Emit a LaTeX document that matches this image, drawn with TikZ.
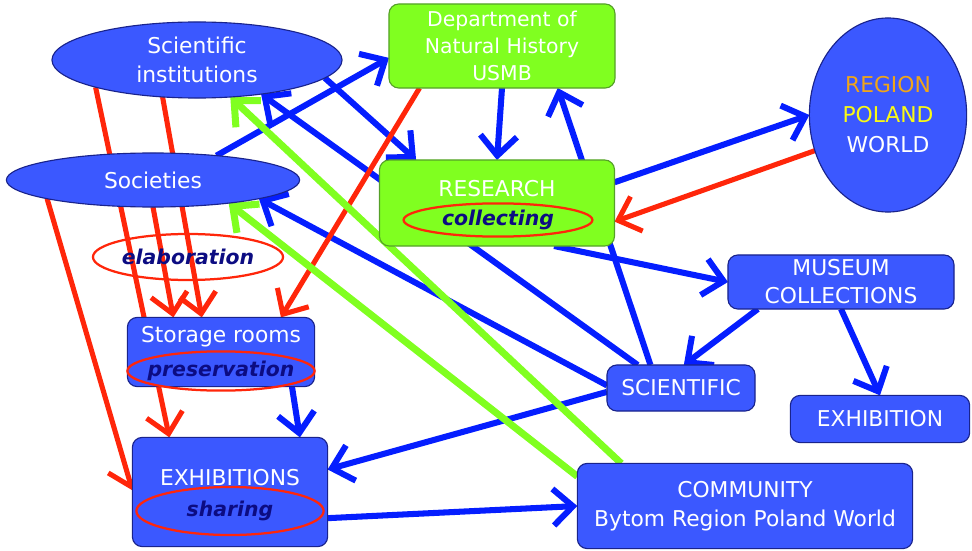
\documentclass[tikz,border=0pt]{standalone}
\usepackage{fontspec}
\setmainfont{DejaVu Sans}
\usetikzlibrary{arrows.meta,shapes.geometric,backgrounds}
\definecolor{boxblue}{RGB}{59,88,255}
\definecolor{boxline}{RGB}{25,35,140}
\definecolor{arrblue}{RGB}{5,30,255}
\definecolor{arrred}{RGB}{255,38,10}
\definecolor{lime}{RGB}{128,255,32}
\definecolor{limeline}{RGB}{85,160,40}
\definecolor{tagnavy}{RGB}{12,12,130}
\definecolor{regorange}{RGB}{240,165,25}
\definecolor{polyellow}{RGB}{250,250,20}

\begin{document}
\begin{tikzpicture}
  [x=0.025cm,y=-0.025cm,
   every node/.style={inner sep=0pt,outer sep=0pt,align=center,text=white,font=\fontsize{15.5}{20.5}\selectfont},
   bluebox/.style={rectangle,rounded corners=7pt,draw=boxline,line width=0.8pt,fill=boxblue},
   limebox/.style={rectangle,rounded corners=7pt,draw=limeline,line width=0.8pt,fill=lime},
   blueoval/.style={ellipse,draw=boxline,line width=0.8pt,fill=boxblue},
   tagoval/.style={ellipse,draw=arrred,line width=1.6pt},
   tagtext/.style={text=tagnavy,font=\fontsize{14.5}{17}\selectfont\bfseries\itshape},
   barbtip/.style={-{Straight Barb[length=14pt,width=26pt]}},
   bluearr/.style={barbtip,draw=arrblue,line width=4.3pt},
   redarr/.style={barbtip,draw=arrred,line width=3.6pt},
   limearr/.style={barbtip,draw=lime,line width=5pt}]
  \useasboundingbox (0,0) rectangle (972,551);

  \node[blueoval,minimum width=7.25cm,minimum height=1.9cm] (sci) at (197,60) {Scientific\\institutions};
  \node[blueoval,minimum width=7.33cm,minimum height=1.35cm] (soc) at (153,180) {Societies};
  \node[limebox,minimum width=5.65cm,minimum height=2.1cm,font=\fontsize{14.5}{19.2}\selectfont] (dep) at (502,46) {Department of\\Natural History\\USMB};
  \node[limebox,minimum width=5.875cm,minimum height=2.15cm] (res) at (497,203) {};
  \node (restxt) at (497,189) {RESEARCH};
  \node[tagoval,minimum width=4.72cm,minimum height=0.83cm,label={[tagtext]center:collecting}] (coll) at (498,220) {};
  \node[blueoval,minimum width=3.93cm,minimum height=4.85cm,font=\fontsize{15.5}{21.3}\selectfont] (reg) at (888,115) {\textcolor{regorange}{REGION}\\\textcolor{polyellow}{POLAND}\\WORLD};
  \node[bluebox,minimum width=5.65cm,minimum height=1.35cm,font=\fontsize{15.5}{20}\selectfont] (mus) at (841,282) {MUSEUM\\COLLECTIONS};
  \node[bluebox,minimum width=3.7cm,minimum height=1.15cm] (scf) at (681,388) {SCIENTIFIC};
  \node[bluebox,minimum width=4.48cm,minimum height=1.18cm] (exh) at (880,419) {EXHIBITION};
  \node[bluebox,minimum width=8.38cm,minimum height=2.13cm,font=\fontsize{15.5}{20.6}\selectfont] (com) at (745,506) {COMMUNITY\\Bytom Region Poland World};
  \node[bluebox,minimum width=4.68cm,minimum height=1.73cm] (sto) at (221,352) {};
  \node (stotxt) at (221,337) {Storage rooms};
  \node[tagoval,minimum width=4.68cm,minimum height=0.98cm,label={[tagtext]center:preservation}] (pres) at (221,371) {};
  \node[bluebox,minimum width=4.88cm,minimum height=2.73cm] (exs) at (230,492) {};
  \node (exstxt) at (230,478) {EXHIBITIONS};
  \node[tagoval,minimum width=4.68cm,minimum height=1.2cm,label={[tagtext]center:sharing}] (shar) at (230,511) {};
  \node[tagoval,minimum width=4.75cm,minimum height=1.15cm,label={[tagtext]center:elaboration}] (elab) at (188,257) {};

  \begin{pgfonlayer}{background}
    \foreach \from/\to in {soc.21/dep.186, sci.-8/res.152, dep.south/res.north, scf.143/dep.-37,
      scf.152/sci.-28, scf.178/soc.-10, scf.183/exs.13, mus.198/scf.83, mus.south/exh.north,
      sto.-26/exs.38, res.10/reg.west, res.-37/mus.west, exs.-15/com.west}
      \draw[bluearr] (\from) -- (\to);
    \foreach \from/\to in {sci.195/exs.138, soc.190/exs.179, soc.south/sto.144, sci.227/sto.119,
      dep.207/sto.30, reg.206/res.-9}
      \draw[redarr] (\from) -- (\to);
    \foreach \from/\to in {com.161/sci.-48, com.170/soc.-17}
      \draw[limearr] (\from) -- (\to);
  \end{pgfonlayer}
\end{tikzpicture}
\end{document}
